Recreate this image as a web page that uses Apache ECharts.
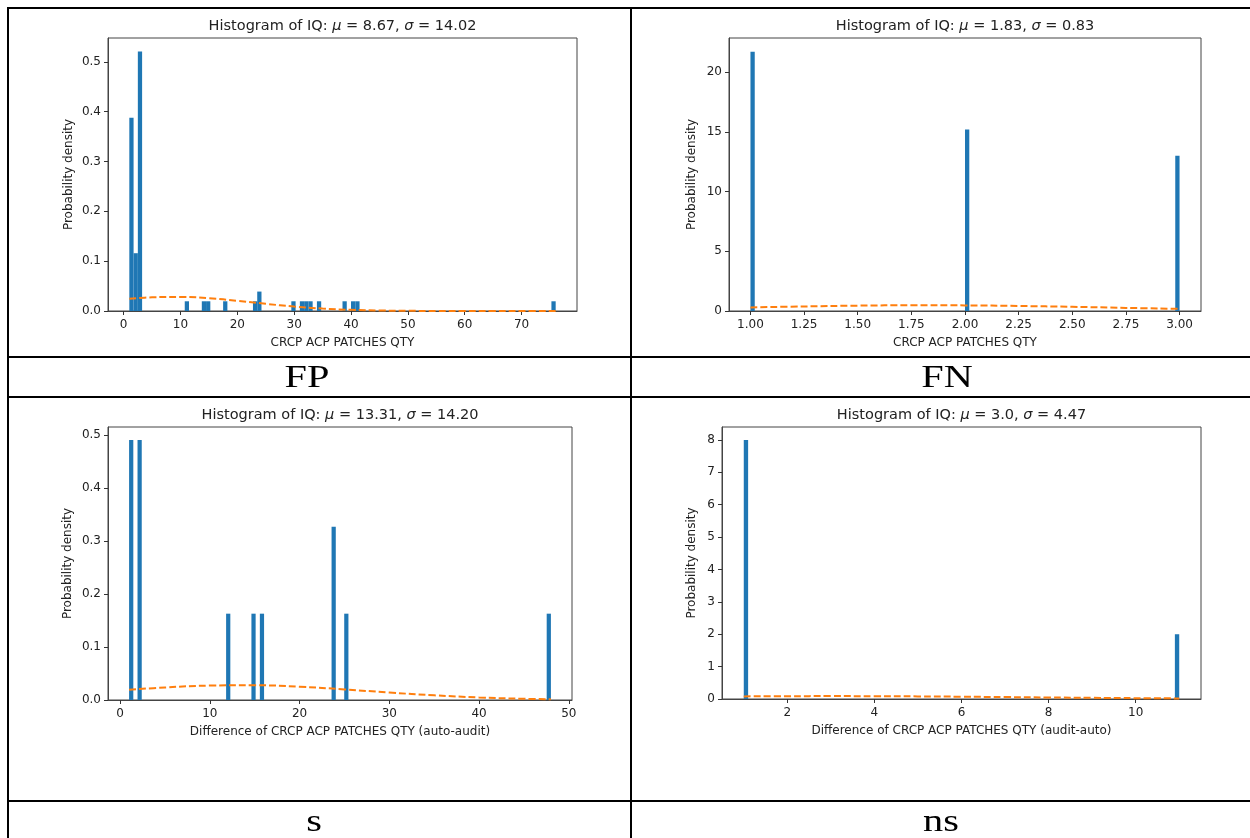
<!DOCTYPE html>
<html>
<head>
<meta charset="utf-8">
<script src="https://cdn.jsdelivr.net/npm/echarts@6/dist/echarts.min.js"></script>
<style>
html,body{margin:0;padding:0;background:#fff;}
#c{width:1250px;height:838px;}
</style>
</head>
<body>
<div id="c"></div>
<script>
// ---------- Panel FP ----------
const fpBinLo   = [1, 1.75, 2.5, 10.75, 13.75, 14.5, 17.5, 22.75, 23.5, 29.5, 31, 31.75, 32.5, 34, 38.5, 40, 40.75, 75.25];
const fpBinHi   = [1.75, 2.5, 3.25, 11.5, 14.5, 15.25, 18.25, 23.5, 24.25, 30.25, 31.75, 32.5, 33.25, 34.75, 39.25, 40.75, 41.5, 76];
const fpDensity = [0.388, 0.116, 0.521, 0.0195, 0.0195, 0.0195, 0.0195, 0.0195, 0.039, 0.0195, 0.0195, 0.0195, 0.0195, 0.0195, 0.0195, 0.0195, 0.0195, 0.0195];
const fpCurveX  = [1, 5, 10, 15, 20, 25, 30, 35, 40, 45, 50, 55, 60, 65, 70, 76];
const fpCurveY  = [0.0245, 0.0275, 0.0282, 0.0257, 0.0205, 0.0144, 0.0089, 0.0049, 0.0023, 0.0010, 0.0004, 0.0001, 0, 0, 0, 0];
const fpXTicks  = [0, 10, 20, 30, 40, 50, 60, 70];
const fpXLabels = ['0', '10', '20', '30', '40', '50', '60', '70'];
const fpYTicks  = [0, 0.1, 0.2, 0.3, 0.4, 0.5];
const fpYLabels = ['0.0', '0.1', '0.2', '0.3', '0.4', '0.5'];

// ---------- Panel FN ----------
const fnBinLo   = [1, 2, 2.98];
const fnBinHi   = [1.02, 2.02, 3.0];
const fnDensity = [21.7, 15.2, 13.0];
const fnCurveX  = [1.0, 1.25, 1.5, 1.75, 2.0, 2.25, 2.5, 2.75, 3.0];
const fnCurveY  = [0.30, 0.38, 0.45, 0.48, 0.47, 0.42, 0.35, 0.26, 0.18];
const fnXTicks  = [1.0, 1.25, 1.5, 1.75, 2.0, 2.25, 2.5, 2.75, 3.0];
const fnXLabels = ['1.00', '1.25', '1.50', '1.75', '2.00', '2.25', '2.50', '2.75', '3.00'];
const fnYTicks  = [0, 5, 10, 15, 20];
const fnYLabels = ['0', '5', '10', '15', '20'];

// ---------- Panel s ----------
const sBinLo   = [1, 1.94, 11.81, 14.63, 15.57, 23.56, 24.97, 47.53];
const sBinHi   = [1.47, 2.41, 12.28, 15.1, 16.04, 24.03, 25.44, 48];
const sDensity = [0.491, 0.491, 0.163, 0.163, 0.163, 0.327, 0.163, 0.163];
const sCurveX  = [1, 5, 10, 15, 20, 25, 30, 35, 40, 45, 48];
const sCurveY  = [0.0193, 0.0237, 0.0273, 0.0279, 0.0251, 0.0200, 0.0141, 0.0088, 0.0048, 0.0023, 0.0014];
const sXTicks  = [0, 10, 20, 30, 40, 50];
const sXLabels = ['0', '10', '20', '30', '40', '50'];
const sYTicks  = [0, 0.1, 0.2, 0.3, 0.4, 0.5];
const sYLabels = ['0.0', '0.1', '0.2', '0.3', '0.4', '0.5'];

// ---------- Panel ns ----------
const nsBinLo   = [1, 10.9];
const nsBinHi   = [1.1, 11];
const nsDensity = [8, 2];
const nsCurveX  = [1, 2, 3, 4, 5, 6, 7, 8, 9, 10, 11];
const nsCurveY  = [0.0808, 0.0870, 0.0892, 0.0870, 0.0808, 0.0712, 0.0598, 0.0477, 0.0362, 0.0262, 0.0180];
const nsXTicks  = [2, 4, 6, 8, 10];
const nsXLabels = ['2', '4', '6', '8', '10'];
const nsYTicks  = [0, 1, 2, 3, 4, 5, 6, 7, 8];
const nsYLabels = ['0', '1', '2', '3', '4', '5', '6', '7', '8'];

// ---------- Texts ----------
const titles = [
  'Histogram of IQ: {i|μ} = 8.67, {i|σ} = 14.02',
  'Histogram of IQ: {i|μ} = 1.83, {i|σ} = 0.83',
  'Histogram of IQ: {i|μ} = 13.31, {i|σ} = 14.20',
  'Histogram of IQ: {i|μ} = 3.0, {i|σ} = 4.47'
];
const xNames = ['CRCP ACP PATCHES QTY', 'CRCP ACP PATCHES QTY',
  'Difference of CRCP ACP PATCHES QTY (auto-audit)', 'Difference of CRCP ACP PATCHES QTY (audit-auto)'];
const yName = 'Probability density';
const cellLabels = ['FP', 'FN', 's', 'ns'];

const F = 'DejaVu Sans';
const TXT = '#222';

const panels = [
  {lo: fpBinLo, hi: fpBinHi, d: fpDensity, cx: fpCurveX, cy: fpCurveY, xt: fpXTicks, xl: fpXLabels, yt: fpYTicks, yl: fpYLabels,
   xmin: -2.75, xmax: 79.75, ymax: 0.548, grid: {left: 108, top: 38, width: 469, height: 273}, yGap: 33},
  {lo: fnBinLo, hi: fnBinHi, d: fnDensity, cx: fnCurveX, cy: fnCurveY, xt: fnXTicks, xl: fnXLabels, yt: fnYTicks, yl: fnYLabels,
   xmin: 0.9, xmax: 3.1, ymax: 22.85, grid: {left: 729, top: 38, width: 472, height: 273}, yGap: 31},
  {lo: sBinLo, hi: sBinHi, d: sDensity, cx: sCurveX, cy: sCurveY, xt: sXTicks, xl: sXLabels, yt: sYTicks, yl: sYLabels,
   xmin: -1.35, xmax: 50.35, ymax: 0.5155, grid: {left: 108, top: 427, width: 464, height: 273}, yGap: 34},
  {lo: nsBinLo, hi: nsBinHi, d: nsDensity, cx: nsCurveX, cy: nsCurveY, xt: nsXTicks, xl: nsXLabels, yt: nsYTicks, yl: nsYLabels,
   xmin: 0.5, xmax: 11.5, ymax: 8.4, grid: {left: 722, top: 427, width: 479, height: 272}, yGap: 24}
];

function fmt(ticks, labels) {
  return function (v) {
    for (let i = 0; i < ticks.length; i++) if (Math.abs(ticks[i] - v) < 1e-9) return labels[i];
    return '';
  };
}

function renderBar(params, api) {
  const p0 = api.coord([api.value(0), api.value(2)]);
  const p1 = api.coord([api.value(1), 0]);
  return {
    type: 'rect',
    shape: {x: p0[0], y: p0[1], width: p1[0] - p0[0], height: p1[1] - p0[1]},
    style: {fill: '#1f77b4'}
  };
}

const grids = [], xAxes = [], yAxes = [], series = [], graphics = [];
panels.forEach((p, k) => {
  grids.push(Object.assign({show: true, borderColor: '#444', borderWidth: 1, backgroundColor: 'transparent'}, p.grid));
  xAxes.push({
    type: 'value', gridIndex: k, min: p.xmin, max: p.xmax,
    name: xNames[k], nameLocation: 'middle', nameGap: 26,
    nameTextStyle: {fontFamily: F, fontSize: 12, color: TXT},
    axisLine: {show: true, onZero: false, lineStyle: {color: '#444', width: 1}},
    splitLine: {show: false},
    axisTick: {show: true, length: 4, lineStyle: {color: '#333'}, customValues: p.xt},
    axisLabel: {customValues: p.xt, formatter: fmt(p.xt, p.xl), margin: 8, fontFamily: F, fontSize: 12, color: TXT}
  });
  yAxes.push({
    type: 'value', gridIndex: k, min: 0, max: p.ymax,
    name: yName, nameLocation: 'middle', nameGap: p.yGap,
    nameTextStyle: {fontFamily: F, fontSize: 12, color: TXT},
    axisLine: {show: true, onZero: false, lineStyle: {color: '#444', width: 1}},
    splitLine: {show: false},
    axisTick: {show: true, length: 4, lineStyle: {color: '#333'}, customValues: p.yt},
    axisLabel: {customValues: p.yt, formatter: fmt(p.yt, p.yl), margin: 7, fontFamily: F, fontSize: 12, color: TXT}
  });
  series.push({
    type: 'custom', xAxisIndex: k, yAxisIndex: k,
    renderItem: renderBar, encode: {x: [0, 1], y: 2},
    data: p.lo.map((lo, i) => [lo, p.hi[i], p.d[i]]),
    z: 2
  });
  series.push({
    type: 'line', xAxisIndex: k, yAxisIndex: k, smooth: 0.4, showSymbol: false,
    data: p.cx.map((x, i) => [x, p.cy[i]]),
    lineStyle: {color: '#ff7f0e', width: 2, type: [7, 3]},
    z: 3
  });
  const cx = p.grid.left + p.grid.width / 2;
  const ty = p.grid.top - 12;
  graphics.push({
    type: 'text', x: cx, y: ty,
    style: {text: titles[k], fontFamily: F, fontSize: 14.5, fill: TXT, align: 'center', verticalAlign: 'middle',
      rich: {i: {fontStyle: 'italic', fontFamily: F, fontSize: 14.5, fill: TXT}}}
  });
});

// table lines
const LW = 2;
[[7, 8, 1250, 8], [7, 357, 1250, 357], [7, 397, 1250, 397], [7, 801, 1250, 801],
 [8, 7, 8, 838], [631, 7, 631, 838]].forEach(l => {
  graphics.push({type: 'line', shape: {x1: l[0], y1: l[1], x2: l[2], y2: l[3]}, style: {stroke: '#000', lineWidth: LW}});
});
// cell labels
const labelPos = [[307, 379], [947, 379], [314, 823], [941, 823]];
cellLabels.forEach((t, i) => {
  graphics.push({
    type: 'text', x: labelPos[i][0], y: labelPos[i][1], scaleX: 1.3,
    style: {text: t, fontFamily: 'Liberation Serif', fontSize: 31, fill: '#000', align: 'center', verticalAlign: 'middle'}
  });
});

const chart = echarts.init(document.getElementById('c'), null, {renderer: 'canvas'});
chart.setOption({
  animation: false,
  backgroundColor: '#fff',
  grid: grids, xAxis: xAxes, yAxis: yAxes, series: series,
  graphic: graphics
});
</script>
</body>
</html>
